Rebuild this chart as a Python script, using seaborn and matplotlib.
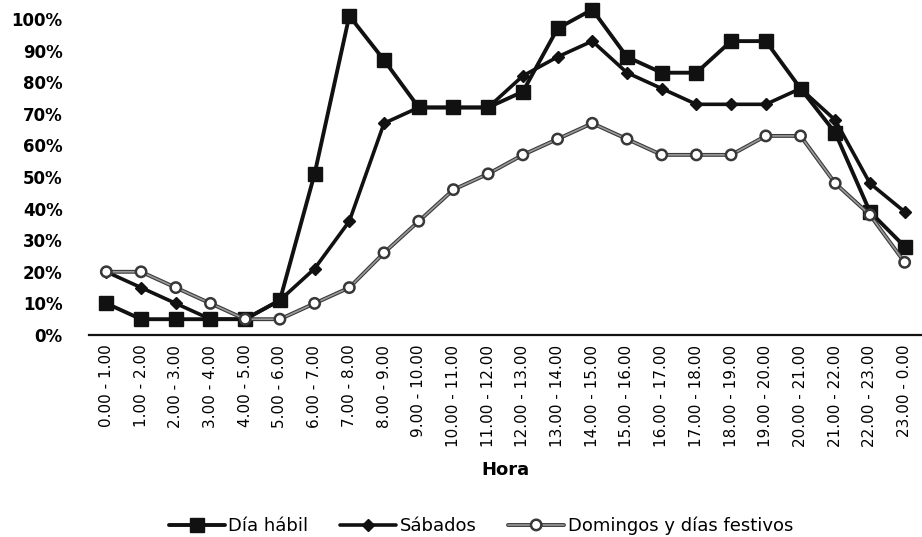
import matplotlib
matplotlib.use("Agg")
import matplotlib.pyplot as plt
import matplotlib.patheffects as pe
from matplotlib.ticker import PercentFormatter
import seaborn as sns
import pandas as pd

# Franjas horarias
horas = [
    "0.00 - 1.00", "1.00 - 2.00", "2.00 - 3.00", "3.00 - 4.00", "4.00 - 5.00",
    "5.00 - 6.00", "6.00 - 7.00", "7.00 - 8.00", "8.00 - 9.00", "9.00 - 10.00",
    "10.00 - 11.00", "11.00 - 12.00", "12.00 - 13.00", "13.00 - 14.00",
    "14.00 - 15.00", "15.00 - 16.00", "16.00 - 17.00", "17.00 - 18.00",
    "18.00 - 19.00", "19.00 - 20.00", "20.00 - 21.00", "21.00 - 22.00",
    "22.00 - 23.00", "23.00 - 0.00",
]

# Porcentaje de la demanda por franja horaria
dia_habil = [10, 5, 5, 5, 5, 11, 51, 101, 87, 72, 72, 72, 77, 97, 103, 88,
             83, 83, 93, 93, 78, 64, 39, 28]
sabados = [20, 15, 10, 5, 5, 11, 21, 36, 67, 72, 72, 72, 82, 88, 93, 83,
           78, 73, 73, 73, 78, 68, 48, 39]
domingos = [20, 20, 15, 10, 5, 5, 10, 15, 26, 36, 46, 51, 57, 62, 67, 62,
            57, 57, 57, 63, 63, 48, 38, 23]

series = ["Día hábil", "Sábados", "Domingos y días festivos"]

sns.set_theme(style="white")
plt.rcParams["font.family"] = ["DejaVu Sans"]
plt.rcParams.update({
    "text.color": "black",
    "axes.labelcolor": "black",
    "xtick.color": "black",
    "ytick.color": "black",
})

df = pd.DataFrame({
    "pos": list(range(len(horas))) * 3,
    "valor": [v / 100 for v in dia_habil + sabados + domingos],
    "serie": [series[0]] * len(horas) + [series[1]] * len(horas) + [series[2]] * len(horas),
})

fig = plt.figure(figsize=(9.22, 5.37), dpi=100)
ax = fig.add_axes([89 / 922, 1 - 335 / 537, 833 / 922, 316 / 537])

estilos = {
    series[0]: dict(color="#111111", lw=2.8, marker="s", ms=9.5, mfc="#111111", mec="#111111", mew=1.0),
    series[1]: dict(color="#111111", lw=2.6, marker="D", ms=6, mfc="#111111", mec="#111111", mew=1.0),
    series[2]: dict(color="#9a9a9a", lw=1.2, marker="o", ms=6.5, mfc="white", mec="#333333", mew=0.8),
}

for nombre in series:
    st = estilos[nombre]
    sns.lineplot(
        data=df[df["serie"] == nombre], x="pos", y="valor", ax=ax, label=nombre,
        color=st["color"], linewidth=st["lw"], marker=st["marker"],
        markersize=st["ms"], markerfacecolor=st["mfc"],
        markeredgecolor=st["mec"], markeredgewidth=st["mew"],
        clip_on=False, zorder=3,
    )

# Línea doble para domingos y festivos
ax.lines[2].set_path_effects([
    pe.Stroke(linewidth=2.8, foreground="#3a3a3a"),
    pe.Normal(),
])

ax.set_xlim(-0.5, len(horas) - 0.5)
ax.set_ylim(0, 1.0)
ax.set_yticks([i / 10 for i in range(11)])
ax.yaxis.set_major_formatter(PercentFormatter(1.0, decimals=0))
ax.set_xticks(range(len(horas)))
ax.set_xticklabels(horas, rotation=90, fontsize=11)
ax.tick_params(axis="x", length=0, pad=7)
ax.tick_params(axis="y", length=0, pad=19, labelsize=12)
for t in ax.get_yticklabels():
    t.set_fontweight("bold")

ax.set_ylabel("")
ax.set_xlabel("Hora", fontsize=13, fontweight="bold", labelpad=10)

for lado in ["left", "right", "top"]:
    ax.spines[lado].set_visible(False)
ax.spines["bottom"].set_color("#111111")
ax.spines["bottom"].set_linewidth(1.6)

handles, labels = ax.get_legend_handles_labels()
ax.get_legend().remove()
fig.legend(handles, labels, loc="center", bbox_to_anchor=(481 / 922, 1 - 526 / 537),
           ncol=3, frameon=False, fontsize=13, handlelength=3.1,
           handletextpad=0.2, columnspacing=1.75)

fig.savefig("out.png", dpi=100)
